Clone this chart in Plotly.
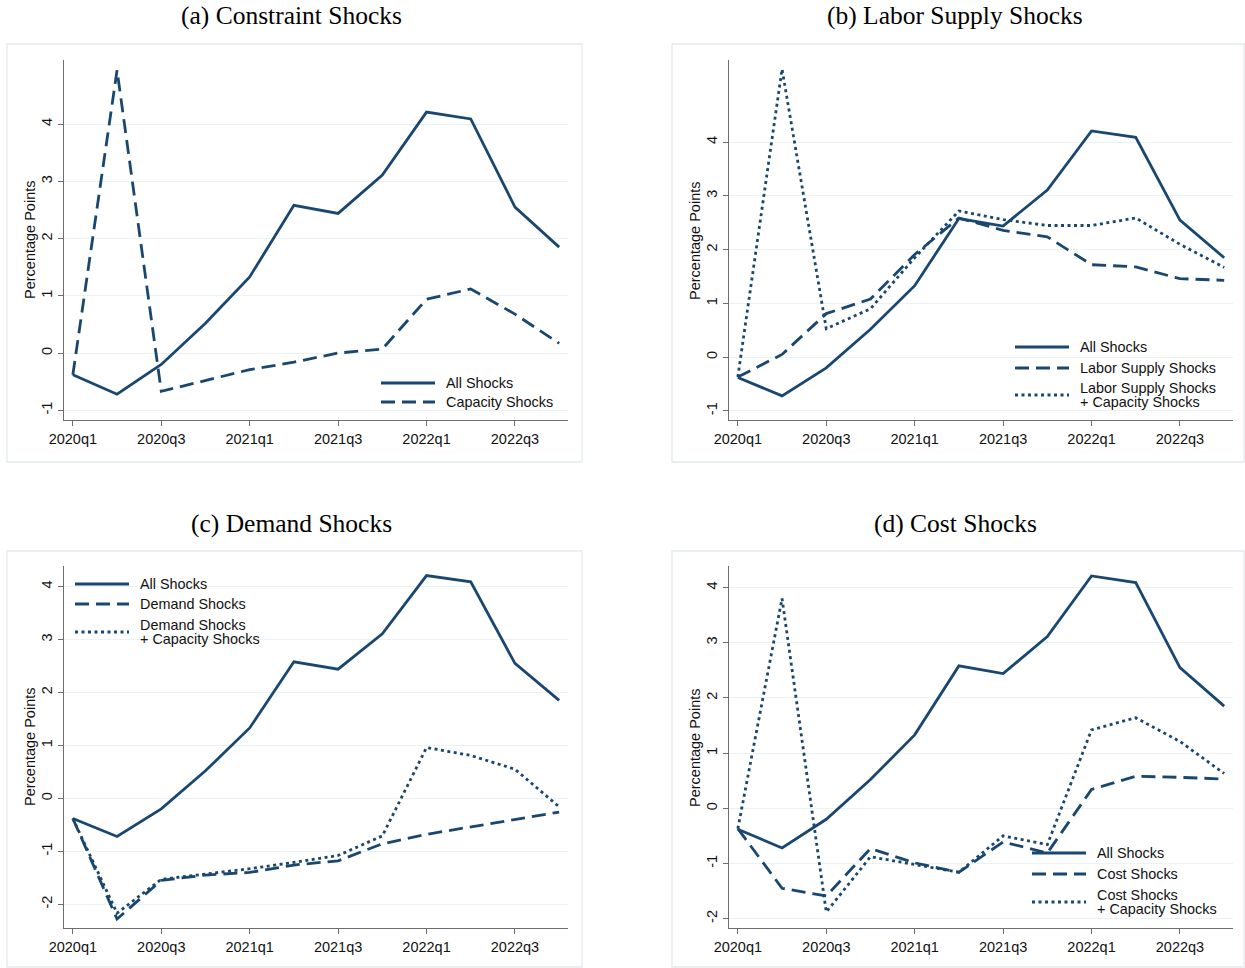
import plotly.graph_objects as go

# ---- data -------------------------------------------------------------
quarters = ["2020q1", "2020q2", "2020q3", "2020q4",
            "2021q1", "2021q2", "2021q3", "2021q4",
            "2022q1", "2022q2", "2022q3", "2022q4"]
tick_quarters = ["2020q1", "2020q3", "2021q1", "2021q3", "2022q1", "2022q3"]

all_shocks = [-0.38, -0.72, -0.20, 0.52, 1.33, 2.58, 2.44, 3.11, 4.21, 4.09, 2.55, 1.85]

capacity_shocks = [-0.38, 4.94, -0.67, -0.48, -0.29, -0.16, 0.00, 0.07, 0.94, 1.12, 0.68, 0.17]

labor_supply = [-0.37, 0.05, 0.81, 1.08, 1.91, 2.59, 2.36, 2.24, 1.72, 1.68, 1.46, 1.43]
labor_supply_capacity = [-0.37, 5.36, 0.53, 0.90, 1.85, 2.72, 2.56, 2.45, 2.45, 2.59, 2.10, 1.67]

demand = [-0.38, -2.28, -1.55, -1.45, -1.40, -1.26, -1.18, -0.86, -0.68, -0.54, -0.39, -0.26]
demand_capacity = [-0.38, -2.17, -1.53, -1.43, -1.33, -1.21, -1.08, -0.71, 0.96, 0.81, 0.55, -0.16]

cost = [-0.37, -1.45, -1.59, -0.73, -0.99, -1.16, -0.61, -0.81, 0.34, 0.58, 0.56, 0.53]
cost_capacity = [-0.37, 3.80, -1.88, -0.88, -1.02, -1.16, -0.50, -0.66, 1.42, 1.64, 1.21, 0.63]

panel_titles = ["(a) Constraint Shocks", "(b) Labor Supply Shocks",
                "(c) Demand Shocks", "(d) Cost Shocks"]
y_title = "Percentage Points"

# ---- styling ----------------------------------------------------------
W, H = 1245, 968
NAVY = "#1a476f"
SOLID = dict(color=NAVY, width=2.8)
DASH = dict(color=NAVY, width=2.8, dash="14px,7px")
DOT = dict(color=NAVY, width=2.8, dash="3px,3.5px")
SANS = "Liberation Sans, Arial, sans-serif"
SERIF = "Liberation Serif, Times New Roman, serif"
TXT = "#111"


def px_x(p):
    return p / W


def px_y(p):
    return 1 - p / H


# panel geometry in pixels: outer box, plot area
panels = [
    dict(box=(7, 44, 582, 462), plot=(64, 60, 568, 420), yr=(-1.17, 5.12),
         yt=[-1, 0, 1, 2, 3, 4], title_y=16, title_x=291),
    dict(box=(672, 44, 1244, 462), plot=(729, 60, 1233, 420), yr=(-1.17, 5.53),
         yt=[-1, 0, 1, 2, 3, 4], title_y=16, title_x=955),
    dict(box=(7, 551, 582, 967), plot=(64, 566, 568, 928), yr=(-2.45, 4.39),
         yt=[-2, -1, 0, 1, 2, 3, 4], title_y=523, title_x=291),
    dict(box=(672, 551, 1244, 967), plot=(729, 566, 1233, 928), yr=(-2.17, 4.39),
         yt=[-2, -1, 0, 1, 2, 3, 4], title_y=523, title_x=955),
]

series = [
    [(all_shocks, SOLID, "All Shocks"), (capacity_shocks, DASH, "Capacity Shocks")],
    [(all_shocks, SOLID, "All Shocks"), (labor_supply, DASH, "Labor Supply Shocks"),
     (labor_supply_capacity, DOT, "Labor Supply Shocks + Capacity Shocks")],
    [(all_shocks, SOLID, "All Shocks"), (demand, DASH, "Demand Shocks"),
     (demand_capacity, DOT, "Demand Shocks + Capacity Shocks")],
    [(all_shocks, SOLID, "All Shocks"), (cost, DASH, "Cost Shocks"),
     (cost_capacity, DOT, "Cost Shocks + Capacity Shocks")],
]

# legend blocks: line x-span, text x, rows of (line y, style, [(text, text y)])
legends = [
    dict(x0=381, x1=435, tx=444, rows=[
        (383, SOLID, [("All Shocks", 383)]),
        (402, DASH, [("Capacity Shocks", 402)]),
    ]),
    dict(x0=1015, x1=1069, tx=1078, rows=[
        (347, SOLID, [("All Shocks", 347)]),
        (368, DASH, [("Labor Supply Shocks", 368)]),
        (395, DOT, [("Labor Supply Shocks", 388), ("+ Capacity Shocks", 402)]),
    ]),
    dict(x0=75, x1=129, tx=138, rows=[
        (584, SOLID, [("All Shocks", 584)]),
        (604, DASH, [("Demand Shocks", 604)]),
        (632, DOT, [("Demand Shocks", 625), ("+ Capacity Shocks", 639)]),
    ]),
    dict(x0=1032, x1=1086, tx=1095, rows=[
        (853, SOLID, [("All Shocks", 853)]),
        (874, DASH, [("Cost Shocks", 874)]),
        (902, DOT, [("Cost Shocks", 895), ("+ Capacity Shocks", 909)]),
    ]),
]

fig = go.Figure()
shapes = []
annotations = []
layout_axes = {}

for i, (pan, ser, leg, title) in enumerate(zip(panels, series, legends, panel_titles)):
    n = "" if i == 0 else str(i + 1)
    xa, ya = "x" + n, "y" + n
    bx0, by0, bx1, by1 = pan["box"]
    px0, py0, px1, py1 = pan["plot"]

    # outer graph-region frame
    shapes.append(dict(type="rect", xref="paper", yref="paper",
                       x0=px_x(bx0), x1=px_x(bx1), y0=px_y(by1), y1=px_y(by0),
                       line=dict(color="#e3ebee", width=1.3), fillcolor="rgba(0,0,0,0)",
                       layer="below"))

    for vals, style, name in ser:
        fig.add_trace(go.Scatter(x=quarters, y=vals, mode="lines", line=style,
                                 name=name, xaxis=xa, yaxis=ya, showlegend=False,
                                 hoverinfo="skip"))

    layout_axes["xaxis" + n] = dict(
        domain=[px_x(px0), px_x(px1)], anchor=ya, type="category",
        categoryorder="array", categoryarray=quarters,
        range=[-0.2, 11.2], tickmode="array", tickvals=tick_quarters,
        ticktext=tick_quarters, ticks="outside", ticklen=5, tickwidth=1.2,
        tickcolor="#6e6e6e", showline=True, linecolor="#6e6e6e", linewidth=1.3,
        showgrid=False, zeroline=False, automargin=False,
        tickfont=dict(family=SANS, size=14.5, color=TXT),
    )
    layout_axes["yaxis" + n] = dict(
        domain=[px_y(py1), px_y(py0)], anchor=xa, range=list(pan["yr"]),
        tickmode="array", tickvals=pan["yt"], ticktext=[str(v) for v in pan["yt"]],
        tickangle=-90, ticks="outside", ticklen=5, tickwidth=1.2, tickcolor="#6e6e6e",
        showline=True, linecolor="#6e6e6e", linewidth=1.3,
        showgrid=True, gridcolor="#eaf2f3", gridwidth=1, zeroline=False,
        automargin=False,
        tickfont=dict(family=SANS, size=14.5, color=TXT),
    )

    # panel title
    annotations.append(dict(text=title, xref="paper", yref="paper",
                            x=px_x(pan["title_x"]), y=px_y(pan["title_y"]),
                            xanchor="center", yanchor="middle", showarrow=False,
                            font=dict(family=SERIF, size=25.5, color="#000")))
    # y-axis title
    annotations.append(dict(text=y_title, xref="paper", yref="paper",
                            x=px_x(px0 - 34), y=px_y((py0 + py1) / 2),
                            xanchor="center", yanchor="middle", textangle=-90,
                            showarrow=False,
                            font=dict(family=SANS, size=14.5, color=TXT)))

    # legend block
    for ly, style, texts in leg["rows"]:
        shapes.append(dict(type="line", xref="paper", yref="paper",
                           x0=px_x(leg["x0"]), x1=px_x(leg["x1"]),
                           y0=px_y(ly), y1=px_y(ly), line=style))
        for txt, ty in texts:
            annotations.append(dict(text=txt, xref="paper", yref="paper",
                                    x=px_x(leg["tx"]), y=px_y(ty),
                                    xanchor="left", yanchor="middle", showarrow=False,
                                    font=dict(family=SANS, size=14.4, color=TXT)))

fig.update_layout(
    width=W, height=H, margin=dict(l=0, r=0, t=0, b=0, autoexpand=False),
    paper_bgcolor="white", plot_bgcolor="white",
    shapes=shapes, annotations=annotations, showlegend=False,
    **layout_axes,
)

fig.write_html("out.html")
